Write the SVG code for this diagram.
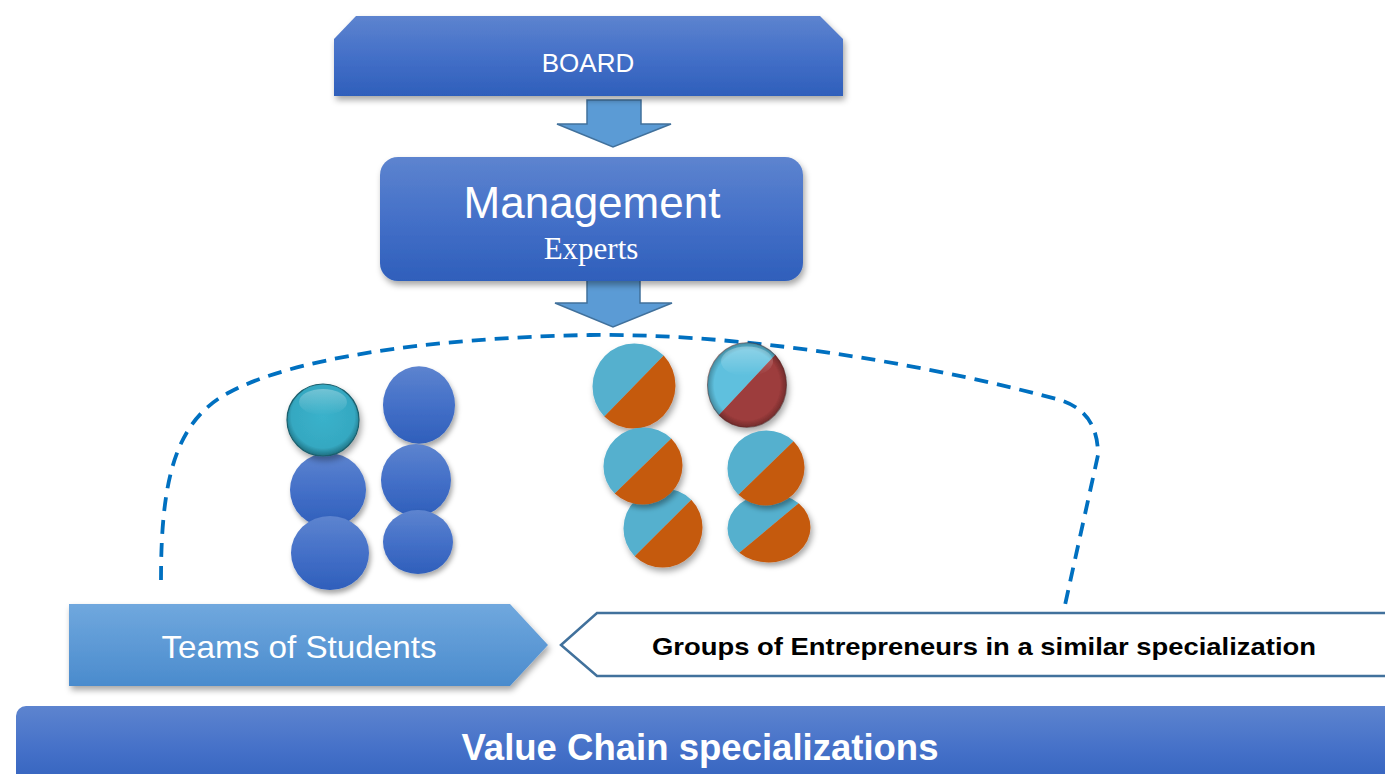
<svg xmlns="http://www.w3.org/2000/svg" xmlns:xlink="http://www.w3.org/1999/xlink" width="1385" height="774" viewBox="0 0 1385 774">
<style>
.lbl{font-family:"Liberation Sans",Arial,sans-serif;fill:#ffffff;text-anchor:middle}
.dark{font-family:"Liberation Sans",Arial,sans-serif;fill:#000000;text-anchor:middle;font-weight:bold}
.serif{font-family:"Liberation Serif","Times New Roman",serif;fill:#ffffff;text-anchor:middle}
.arrow{fill:#5b9bd5;stroke:#41719c;stroke-width:1.5}
.dash{fill:none;stroke:#0070c0;stroke-width:3.8;stroke-dasharray:14 9}
</style>
<defs>
<linearGradient id="gBlue" x1="0" y1="0" x2="0" y2="1">
<stop offset="0" stop-color="#5d84cf"/>
<stop offset="0.5" stop-color="#4470c8"/>
<stop offset="1" stop-color="#2f5fbb"/>
</linearGradient>
<linearGradient id="gLight" x1="0" y1="0" x2="0" y2="1">
<stop offset="0" stop-color="#70a8de"/>
<stop offset="1" stop-color="#4a8bcd"/>
</linearGradient>
<radialGradient id="gTeal" cx="0.5" cy="0.45" r="0.55">
<stop offset="0" stop-color="#3ab2cb"/>
<stop offset="0.8" stop-color="#35a8c1"/>
<stop offset="1" stop-color="#1e6f80"/>
</radialGradient>
<radialGradient id="gGloss" cx="0.5" cy="0.5" r="0.5">
<stop offset="0.82" stop-color="#000000" stop-opacity="0"/>
<stop offset="1" stop-color="#000000" stop-opacity="0.3"/>
</radialGradient>
<linearGradient id="gHi" x1="0" y1="0" x2="0" y2="1">
<stop offset="0" stop-color="#ffffff" stop-opacity="0.3"/>
<stop offset="1" stop-color="#ffffff" stop-opacity="0"/>
</linearGradient>
<filter id="sh" x="-20%" y="-20%" width="150%" height="160%">
<feDropShadow dx="2" dy="4" stdDeviation="3" flood-color="#000" flood-opacity="0.35"/>
</filter>
<g id="split">
<path d="M-28.28,28.28 A40,40 0 0 1 28.28,-28.28 Z" fill="#55b0ce"/>
<path d="M28.28,-28.28 A40,40 0 0 1 -28.28,28.28 Z" fill="#c55a11"/>
</g>
<g id="splitGloss">
<path d="M-28.28,28.28 A40,40 0 0 1 28.28,-28.28 Z" fill="#5ec0de"/>
<path d="M28.28,-28.28 A40,40 0 0 1 -28.28,28.28 Z" fill="#9d3c3c"/>
<circle r="40" fill="url(#gGloss)"/>
<ellipse cx="0" cy="-22" rx="26" ry="14" fill="url(#gHi)"/>
<circle r="39.5" fill="none" stroke="#5a2a2a" stroke-opacity="0.4" stroke-width="1"/>
</g>
<circle id="blueDot" r="40" fill="url(#gBlue)"/>
</defs>

<g id="connectors">
<path class="dash" d="M161,580 C161,480 175,420 230,392 C290,360 420,338 590,335 C760,333 950,370 1060,400 C1085,408 1098,425 1098,455 L1065,605"/>
<path id="arrow1" class="arrow" d="M587,100 L641,100 L641,124 L671,124 L613,147 L557,124 L587,124 Z"/>
<path id="arrow2" class="arrow" d="M587,280 L640,280 L640,303 L672,303 L613,327 L555,303 L587,303 Z"/>
</g>

<g id="board">
<path d="M356,16 L820,16 L843,39 L843,96 L334,96 L334,39 Z" fill="url(#gBlue)" filter="url(#sh)"/>
<text class="lbl" x="588" y="72" font-size="26">BOARD</text>
</g>

<g id="management">
<rect x="380" y="157" width="423" height="124" rx="18" fill="url(#gBlue)" filter="url(#sh)"/>
<text class="lbl" x="592" y="218" font-size="44">Management</text>
<text class="serif" x="591" y="259" font-size="31">Experts</text>
</g>

<g id="students-circles">
<use xlink:href="#blueDot" transform="translate(419,405) scale(0.9,0.97)" filter="url(#sh)"/>
<use xlink:href="#blueDot" transform="translate(416,480) scale(0.875,0.9)" filter="url(#sh)"/>
<use xlink:href="#blueDot" transform="translate(418,542) scale(0.875,0.8)" filter="url(#sh)"/>
<use xlink:href="#blueDot" transform="translate(328,490) scale(0.95,0.925)" filter="url(#sh)"/>
<use xlink:href="#blueDot" transform="translate(330,553) scale(0.975,0.925)" filter="url(#sh)"/>
<g filter="url(#sh)">
<circle cx="323" cy="420" r="36" fill="url(#gTeal)" stroke="#1a5e6c" stroke-width="1.2"/>
<ellipse cx="323" cy="402" rx="24" ry="13" fill="url(#gHi)"/>
</g>
</g>

<g id="entrepreneur-circles">
<use xlink:href="#split" transform="translate(634,386) scale(1.05,1.075)" filter="url(#sh)"/>
<use xlink:href="#splitGloss" transform="translate(747,385) scale(1,1.07)" filter="url(#sh)"/>
<use xlink:href="#split" transform="translate(663,528) scale(1,1)" filter="url(#sh)"/>
<use xlink:href="#split" transform="translate(643,466) scale(1,0.975)" filter="url(#sh)"/>
<use xlink:href="#split" transform="translate(769,528) scale(1.05,0.875)" filter="url(#sh)"/>
<use xlink:href="#split" transform="translate(766,468) scale(0.975,0.95)" filter="url(#sh)"/>
</g>

<g id="teams">
<path d="M69,604 L510,604 L548,645 L510,686 L69,686 Z" fill="url(#gLight)" filter="url(#sh)"/>
<text class="lbl" x="299" y="658" font-size="32" textLength="275" lengthAdjust="spacingAndGlyphs">Teams of Students</text>
</g>

<g id="groups">
<path d="M561,645 L597,613 L1392,613 L1392,676 L597,676 Z" fill="#ffffff" stroke="#41719c" stroke-width="2.5"/>
<text class="dark" x="984" y="655" font-size="24" textLength="664" lengthAdjust="spacingAndGlyphs">Groups of Entrepreneurs in a similar specialization</text>
</g>

<g id="value-chain">
<rect x="16" y="706" width="1380" height="90" rx="10" fill="url(#gBlue)"/>
<text class="lbl" x="700" y="760" font-size="36" font-weight="bold" textLength="477" lengthAdjust="spacingAndGlyphs">Value Chain specializations</text>
</g>
</svg>
